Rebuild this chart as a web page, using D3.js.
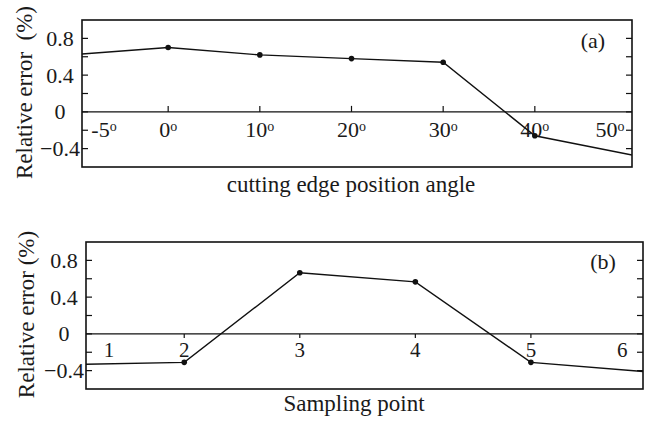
<!DOCTYPE html>
<html lang="en">
<head>
<meta charset="UTF-8">
<title>Relative error</title>
<script src="https://cdn.jsdelivr.net/npm/d3@7/dist/d3.min.js"></script>
<style>
    body { margin: 0; background: white; }
    .frame { fill: none; stroke: #111; stroke-width: 1.6; }
    .zero { stroke: #111; stroke-width: 1.3; }
    .tick { stroke: #111; stroke-width: 1.2; }
    .line { fill: none; stroke: #111; stroke-width: 1.4; }
</style>
</head>
<body>
<svg width="645" height="425" font-family="'Liberation Serif', 'Times New Roman', serif" fill="#1a1a1a"></svg>
<script>
// panel (a): cutting edge position angle (deg) vs relative error (%)
var angleX = [-9.4, 0, 10, 20, 30, 40, 50.6];
var angleErr = [0.63, 0.70, 0.62, 0.58, 0.54, -0.26, -0.47];
var angleTicks = [0, 10, 20, 30, 40];
var angleLabels = [["-5", -7], ["0", 0], ["10", 10], ["20", 20], ["30", 30], ["40", 40], ["50", 48.2]];

// panel (b): sampling point vs relative error (%)
var sampleX = [1, 2, 3, 4, 5, 6];
var sampleErr = [-0.334, -0.31, 0.665, 0.566, -0.31, -0.413];
var sampleTicks = [2, 3, 4, 5];
var sampleLabels = [["1", 1.35], ["2", 2], ["3", 3], ["4", 4], ["5", 5], ["6", 5.79]];

var yTicks = [0.8, 0.4, 0, -0.4];
var yMinor = [0.6, 0.2, -0.2];

var svg = d3.select("svg");

function panel(o) {
    var g = svg.append("g");
    var x = d3.scaleLinear().domain(o.xDomain).range([o.left, o.right]);
    var y = d3.scaleLinear().domain([-0.6, 1.0]).range([o.bottom, o.top]);

    var clipId = "clip" + o.name;
    g.append("clipPath").attr("id", clipId)
        .append("rect")
        .attr("x", o.left).attr("y", o.top)
        .attr("width", o.right - o.left).attr("height", o.bottom - o.top);

    // y ticks on both sides, pointing inward
    yTicks.concat(yMinor).forEach(function (v) {
        g.append("line").attr("class", "tick")
            .attr("x1", o.left).attr("x2", o.left + 6)
            .attr("y1", y(v)).attr("y2", y(v));
        g.append("line").attr("class", "tick")
            .attr("x1", o.right).attr("x2", o.right - 6)
            .attr("y1", y(v)).attr("y2", y(v));
    });
    yTicks.forEach(function (v) {
        g.append("text")
            .attr("x", o.left - 22).attr("y", y(v))
            .attr("dy", "0.34em")
            .attr("text-anchor", "middle")
            .attr("font-size", 22)
            .text(v === 0 ? "0" : d3.format(".1f")(v));
    });

    // zero line and x ticks
    g.append("line").attr("class", "zero")
        .attr("x1", o.left).attr("x2", o.right)
        .attr("y1", y(0)).attr("y2", y(0));
    o.xTicks.forEach(function (v) {
        g.append("line").attr("class", "tick")
            .attr("x1", x(v)).attr("x2", x(v))
            .attr("y1", y(0)).attr("y2", y(0) + o.tickLen);
    });
    o.xLabels.forEach(function (d) {
        var t = g.append("text")
            .attr("x", x(d[1])).attr("y", y(0) + o.labelDy)
            .attr("text-anchor", "middle")
            .attr("font-size", o.labelSize);
        t.append("tspan").text(d[0]);
        if (o.degree) {
            t.append("tspan").attr("dy", "-0.45em").attr("font-size", 14).text("o");
        }
    });

    // data line
    var line = d3.line()
        .x(function (d) { return x(d[0]); })
        .y(function (d) { return y(d[1]); });
    var pts = d3.zip(o.xs, o.ys);
    g.append("path").attr("class", "line")
        .attr("clip-path", "url(#" + clipId + ")")
        .attr("d", line(pts));
    g.selectAll(".dot")
        .data(pts.filter(function (d) { return o.xTicks.indexOf(d[0]) >= 0; }))
        .enter().append("circle")
        .attr("cx", function (d) { return x(d[0]); })
        .attr("cy", function (d) { return y(d[1]); })
        .attr("r", 2.8)
        .attr("fill", "#111");

    g.append("rect").attr("class", "frame")
        .attr("x", o.left).attr("y", o.top)
        .attr("width", o.right - o.left).attr("height", o.bottom - o.top);

    // panel tag
    g.append("text")
        .attr("x", o.tagX).attr("y", o.top + o.tagDy)
        .attr("text-anchor", "middle")
        .attr("font-size", 22)
        .text(o.tag);

    // axis titles
    g.append("text")
        .attr("transform", "translate(" + o.yTitleX + "," + ((o.top + o.bottom) / 2 - 1) + ") rotate(-90)")
        .attr("text-anchor", "middle")
        .attr("font-size", 23)
        .style("white-space", "pre")
        .text(o.yTitle);
    g.append("text")
        .attr("x", o.xTitleX).attr("y", o.bottom + o.xTitleDy)
        .attr("text-anchor", "middle")
        .attr("font-size", 23)
        .text(o.xTitle);
}

panel({
    name: "a", left: 82, right: 632, top: 20, bottom: 167,
    xDomain: [-9.4, 50.6], xs: angleX, ys: angleErr,
    xTicks: angleTicks, xLabels: angleLabels, tickLen: -6,
    labelDy: 25, labelSize: 22, degree: true,
    tag: "(a)", tagX: 593, tagDy: 28, yTitleX: 32,
    yTitle: "Relative error  (%)", xTitle: "cutting edge position angle", xTitleX: 351, xTitleDy: 25
});

panel({
    name: "b", left: 86, right: 643, top: 242, bottom: 389,
    xDomain: [1.15, 5.97], xs: sampleX, ys: sampleErr,
    xTicks: sampleTicks, xLabels: sampleLabels, tickLen: 4,
    labelDy: 23, labelSize: 21, degree: false,
    tag: "(b)", tagX: 603, tagDy: 27, yTitleX: 34,
    yTitle: "Relative error (%)", xTitle: "Sampling point", xTitleX: 354, xTitleDy: 22
});
</script>
</body>
</html>
